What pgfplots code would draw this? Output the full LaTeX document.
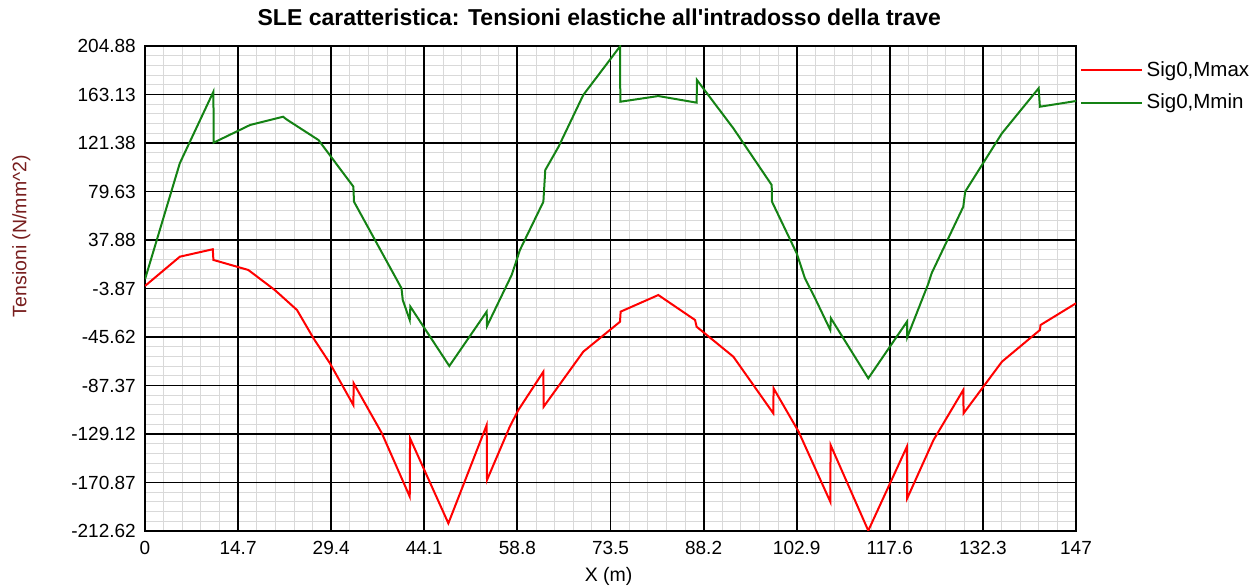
\documentclass[border=0pt]{standalone}
\usepackage{fontspec}
\setmainfont{Liberation Sans}
\usepackage{pgfplots}
\pgfplotsset{compat=1.18}
\definecolor{sgreen}{RGB}{20,130,20}
\definecolor{sred}{RGB}{255,0,0}
\definecolor{ylab}{RGB}{120,30,30}
\begin{document}
\begin{tikzpicture}
\begin{axis}[
  scale only axis,
  width=558.6pt, height=291pt,
  xmin=0, xmax=147, ymin=-212.62, ymax=204.88,
  xtick={2.94,5.88,8.82,11.76,17.64,20.58,23.52,26.46,32.34,35.28,38.22,41.16,47.04,49.98,52.92,55.86,61.74,64.68,67.62,70.56,76.44,79.38,82.32,85.26,91.14,94.08,97.02,99.96,105.84,108.78,111.72,114.66,120.54,123.48,126.42,129.36,135.24,138.18,141.12,144.06},
  xticklabels={},
  ytick={-204.27,-195.92,-187.57,-179.22,-162.52,-154.17,-145.82,-137.47,-120.77,-112.42,-104.07,-95.72,-79.02,-70.67,-62.32,-53.97,-37.27,-28.92,-20.57,-12.22,4.48,12.83,21.18,29.53,46.23,54.58,62.93,71.28,87.98,96.33,104.68,113.03,129.73,138.08,146.43,154.78,171.48,179.83,188.18,196.53},
  yticklabels={},
  extra x ticks={0,14.7,29.4,44.1,58.8,73.5,88.2,102.9,117.6,132.3,147},
  extra x tick labels={0,14.7,29.4,44.1,58.8,73.5,88.2,102.9,117.6,132.3,147},
  extra y ticks={-212.62,-170.87,-129.12,-87.37,-45.62,-3.87,37.88,79.63,121.38,163.13,204.88},
  extra y tick labels={-212.62,-170.87,-129.12,-87.37,-45.62,-3.87,37.88,79.63,121.38,163.13,204.88},
  grid=major,
  major grid style={black!15, line width=0.5pt},
  extra tick style={major grid style={black, line width=1.1pt}},
  axis line style={black, line width=1.2pt},
  major tick length=0pt, minor tick length=0pt,
  tick label style={font=\fontsize{11.4}{13}\selectfont},
  xticklabel style={yshift=-2.5pt},
  yticklabel style={xshift=-2pt},
  title={SLE caratteristica: Tensioni elastiche all\textquotesingle intradosso della trave},
  title style={font=\bfseries\fontsize{13.8}{16}\selectfont, at={(axis description cs:0.488,1)}, anchor=center, yshift=11.5pt},
  xlabel={X (m)},
  xlabel style={font=\fontsize{11.7}{13}\selectfont, at={(axis description cs:0.498,0)}, anchor=center, yshift=-27.4pt},
  ylabel={Tensioni (N/mm\textasciicircum 2)},
  ylabel style={font=\fontsize{11.7}{13}\selectfont, color=ylab, at={(axis description cs:-0.1328,0.608)}, anchor=center, rotate=0},
  legend style={at={(axis description cs:1.0043,0.976)}, anchor=north west, draw=none, fill=none, font=\fontsize{12.3}{14}\selectfont, row sep=5.2pt, inner sep=0pt},
  legend cell align=left,
  legend image code/.code={\draw[#1,line width=1.2pt] (0pt,0pt) -- (36.6pt,0pt);},
]
\addplot[sred, line width=1.2pt] coordinates {
(0,-1.7) (5.5,23.5) (10.7,29.9) (10.8,20.7) (16.3,12.1) (20.5,-5.2) (24.0,-22.4)
(26.6,-46.7) (29.2,-68.3) (32.9,-104.2) (32.95,-85.5) (37.4,-128.5) (41.8,-183)
(41.85,-132.8) (47.9,-206.0) (53.95,-121.4) (54.0,-168.7) (57.6,-122.8) (58.95,-108.5)
(62.9,-75.5) (62.95,-105.6) (69.2,-58.3) (75.0,-32.5) (75.1,-23.8) (81.05,-9.5)
(86.85,-31) (87.1,-36.8) (92.9,-62.6) (99.2,-111.3) (99.25,-89.8) (103.2,-127.1)
(108.2,-187.4) (108.25,-138.6) (114.2,-212.3) (120.3,-140.0) (120.35,-184.5)
(124.5,-134.3) (129.2,-91.2) (129.25,-111.3) (135.3,-66.9) (141.3,-39.6) (141.4,-35.3) (147,-16.6)
};
\addlegendentry{Sig0,Mmax}
\addplot[sgreen, line width=1.2pt] coordinates {
(0,4) (5.5,104) (10.8,165.5) (10.85,121.7) (16.6,136.9) (21.8,144.0) (22.4,141.5)
(27.4,123.9) (32.9,83.8) (33.0,70.8) (40.5,-3.7) (40.7,-13.8) (41.8,-31) (41.9,-19.5)
(48.05,-70.6) (53.95,-23.8) (54.0,-36.2) (57.9,7.8) (59.2,29.3) (62.9,70.8) (63.2,98.1)
(65.3,118.2) (69.2,162.7) (75.0,204.5) (75.05,156.9) (81.05,161.8) (87.1,156.1)
(87.15,175.6) (92.9,134.0) (98.95,85.2) (99.0,70.8) (102.9,26.4) (104.2,4.9)
(105.8,-12.3) (108.2,-39.6) (108.3,-29.5) (114.2,-81.2) (120.3,-32.5) (120.35,-45.9)
(123.7,0.6) (124.2,9.2) (129.2,66.5) (129.5,79.5) (135.3,129.7) (141.1,168.5)
(141.3,152.6) (147,157.5)
};
\addlegendentry{Sig0,Mmin}
\end{axis}
\pgfresetboundingbox
\path[use as bounding box] (-87pt,-33.6pt) rectangle (666.6pt,318.6pt);
\end{tikzpicture}
\end{document}
